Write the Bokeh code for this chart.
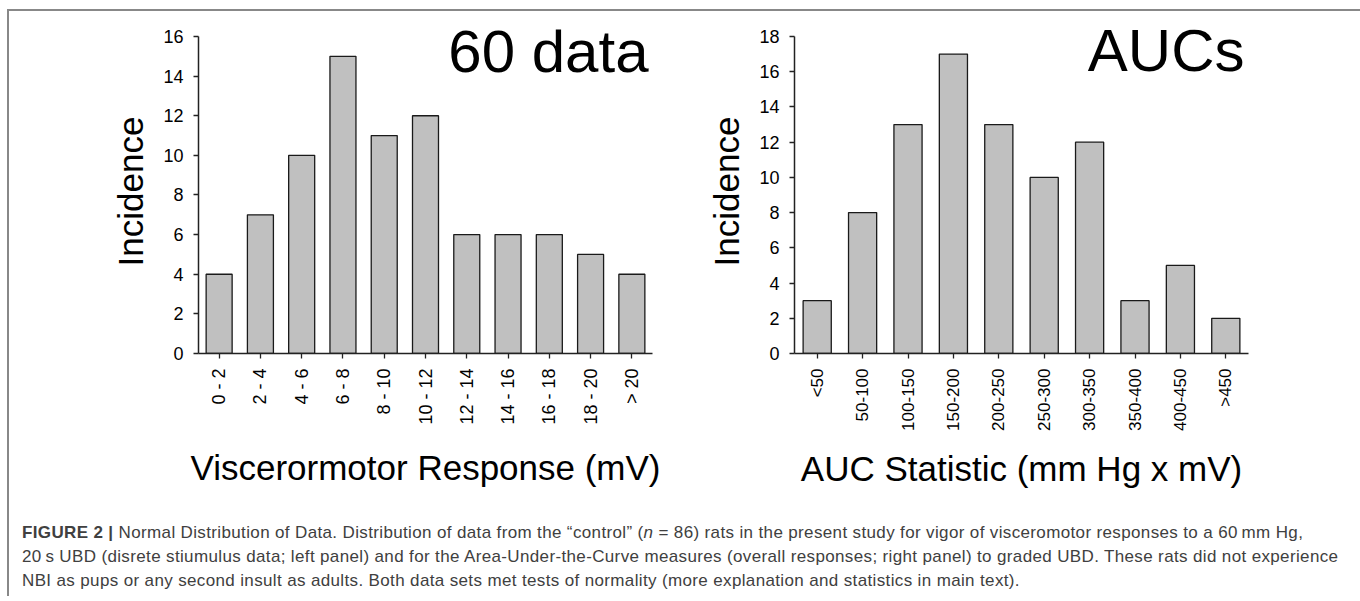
import math
from bokeh.plotting import figure
from bokeh.models import Range1d, FactorRange, FixedTicker, Div, ColumnDataSource, Label
from bokeh.layouts import column, row
from bokeh.embed import file_html
from bokeh.resources import INLINE

# ---- data ----
vmr_bins = ["0 - 2", "2 - 4", "4 - 6", "6 - 8", "8 - 10", "10 - 12",
            "12 - 14", "14 - 16", "16 - 18", "18 - 20", "> 20"]
vmr_counts = [4, 7, 10, 15, 11, 12, 6, 6, 6, 5, 4]
vmr_ymax = 16

auc_bins = ["<50", "50-100", "100-150", "150-200", "200-250", "250-300",
            "300-350", "350-400", "400-450", ">450"]
auc_counts = [3, 8, 13, 17, 13, 10, 12, 3, 5, 2]
auc_ymax = 18

FONT = "Liberation Sans"
AXIS_PX = 318      # pixel height of the 0..ymax axis
HEADROOM = 7       # extra frame pixels above the top tick (room for the tag text)


def make_hist(cats, counts, ymax, tag, xlabel, ylabel, w, mbl, mbr, mbt, mbb,
              bar_w, tick_fs, xstand, tag_dx, tag_dy):
    src = ColumnDataSource(dict(cat=cats, n=counts))
    p = figure(x_range=FactorRange(*cats, range_padding=0),
               y_range=Range1d(0, ymax * (AXIS_PX + HEADROOM) / AXIS_PX),
               width=w, height=505, output_backend="svg",
               toolbar_location=None,
               min_border_left=mbl, min_border_right=mbr,
               min_border_top=mbt - HEADROOM, min_border_bottom=mbb)
    p.vbar(x="cat", top="n", width=bar_w, source=src,
           fill_color="#c0c0c0", line_color="#1a1a1a", line_width=1.3)
    p.add_layout(Label(x=len(cats), y=ymax, text=tag, text_font=FONT,
                       text_font_size="60px", text_align="right",
                       text_baseline="alphabetic", x_offset=tag_dx,
                       y_offset=tag_dy, text_color="black"))
    p.grid.visible = False
    p.outline_line_color = None
    p.background_fill_color = "white"
    p.border_fill_color = "white"

    for ax in (p.xaxis[0], p.yaxis[0]):
        ax.axis_line_color = "#222222"
        ax.axis_line_width = 1.5
        ax.major_tick_line_color = "#222222"
        ax.major_tick_line_width = 1.3
        ax.major_tick_in = 0
        ax.major_tick_out = 5
        ax.minor_tick_line_color = None
        ax.major_label_text_font = FONT
        ax.major_label_text_color = "black"
        ax.major_label_standoff = 10
        ax.axis_label_text_font = FONT
        ax.axis_label_text_font_size = "35px"
        ax.axis_label_text_font_style = "normal"
        ax.axis_label_text_color = "black"

    p.yaxis.ticker = FixedTicker(ticks=list(range(0, ymax + 1, 2)))
    p.yaxis.bounds = (0, ymax)
    p.yaxis.major_label_text_font_size = "18px"
    p.yaxis.axis_label = ylabel
    p.yaxis.axis_label_standoff = 10

    p.xaxis.major_label_orientation = math.pi / 2
    p.xaxis.major_label_text_font_size = tick_fs
    p.xaxis.axis_label = xlabel
    p.xaxis.axis_label_standoff = xstand
    return p


p1 = make_hist(vmr_bins, vmr_counts, vmr_ymax, "60 data",
               "Viscerormotor Response (mV)", "Incidence",
               672, 189, 29, 24, 163, 0.63, "18px", 20, -4, -15)
p2 = make_hist(auc_bins, auc_counts, auc_ymax, "AUCs",
               "AUC Statistic (mm Hg x mV)", "Incidence",
               673, 113, 106, 25, 162, 0.62, "17px", 15, -4, -14)

caption_html = (
    "<b>FIGURE 2 |</b> Normal Distribution of Data. Distribution of data from the "
    "\u201ccontrol\u201d (<i>n</i> = 86) rats in the present study for vigor of "
    "visceromotor responses to a 60\u2009mm Hg,<br>"
    "20\u2009s UBD (disrete stiumulus data; left panel) and for the "
    "Area-Under-the-Curve measures (overall responses; right panel) to graded UBD. "
    "These rats did not experience<br>"
    "NBI as pups or any second insult as adults. Both data sets met tests of "
    "normality (more explanation and statistics in main text)."
)
cap = Div(text=caption_html, width=1345, height=70,
          styles={"font-family": FONT, "font-size": "17px",
                  "letter-spacing": "0.36px",
                  "line-height": "24px", "color": "#404040",
                  "white-space": "nowrap", "padding-left": "8px",
                  "box-sizing": "border-box"})

layout = column(row(p1, p2), cap, margin=(9, 0, 0, 7),
                styles={"border-top": "2px solid #888888",
                        "border-left": "2px solid #888888",
                        "border-right": "2px solid #888888"})

open("out.html", "w").write(file_html(layout, INLINE))
